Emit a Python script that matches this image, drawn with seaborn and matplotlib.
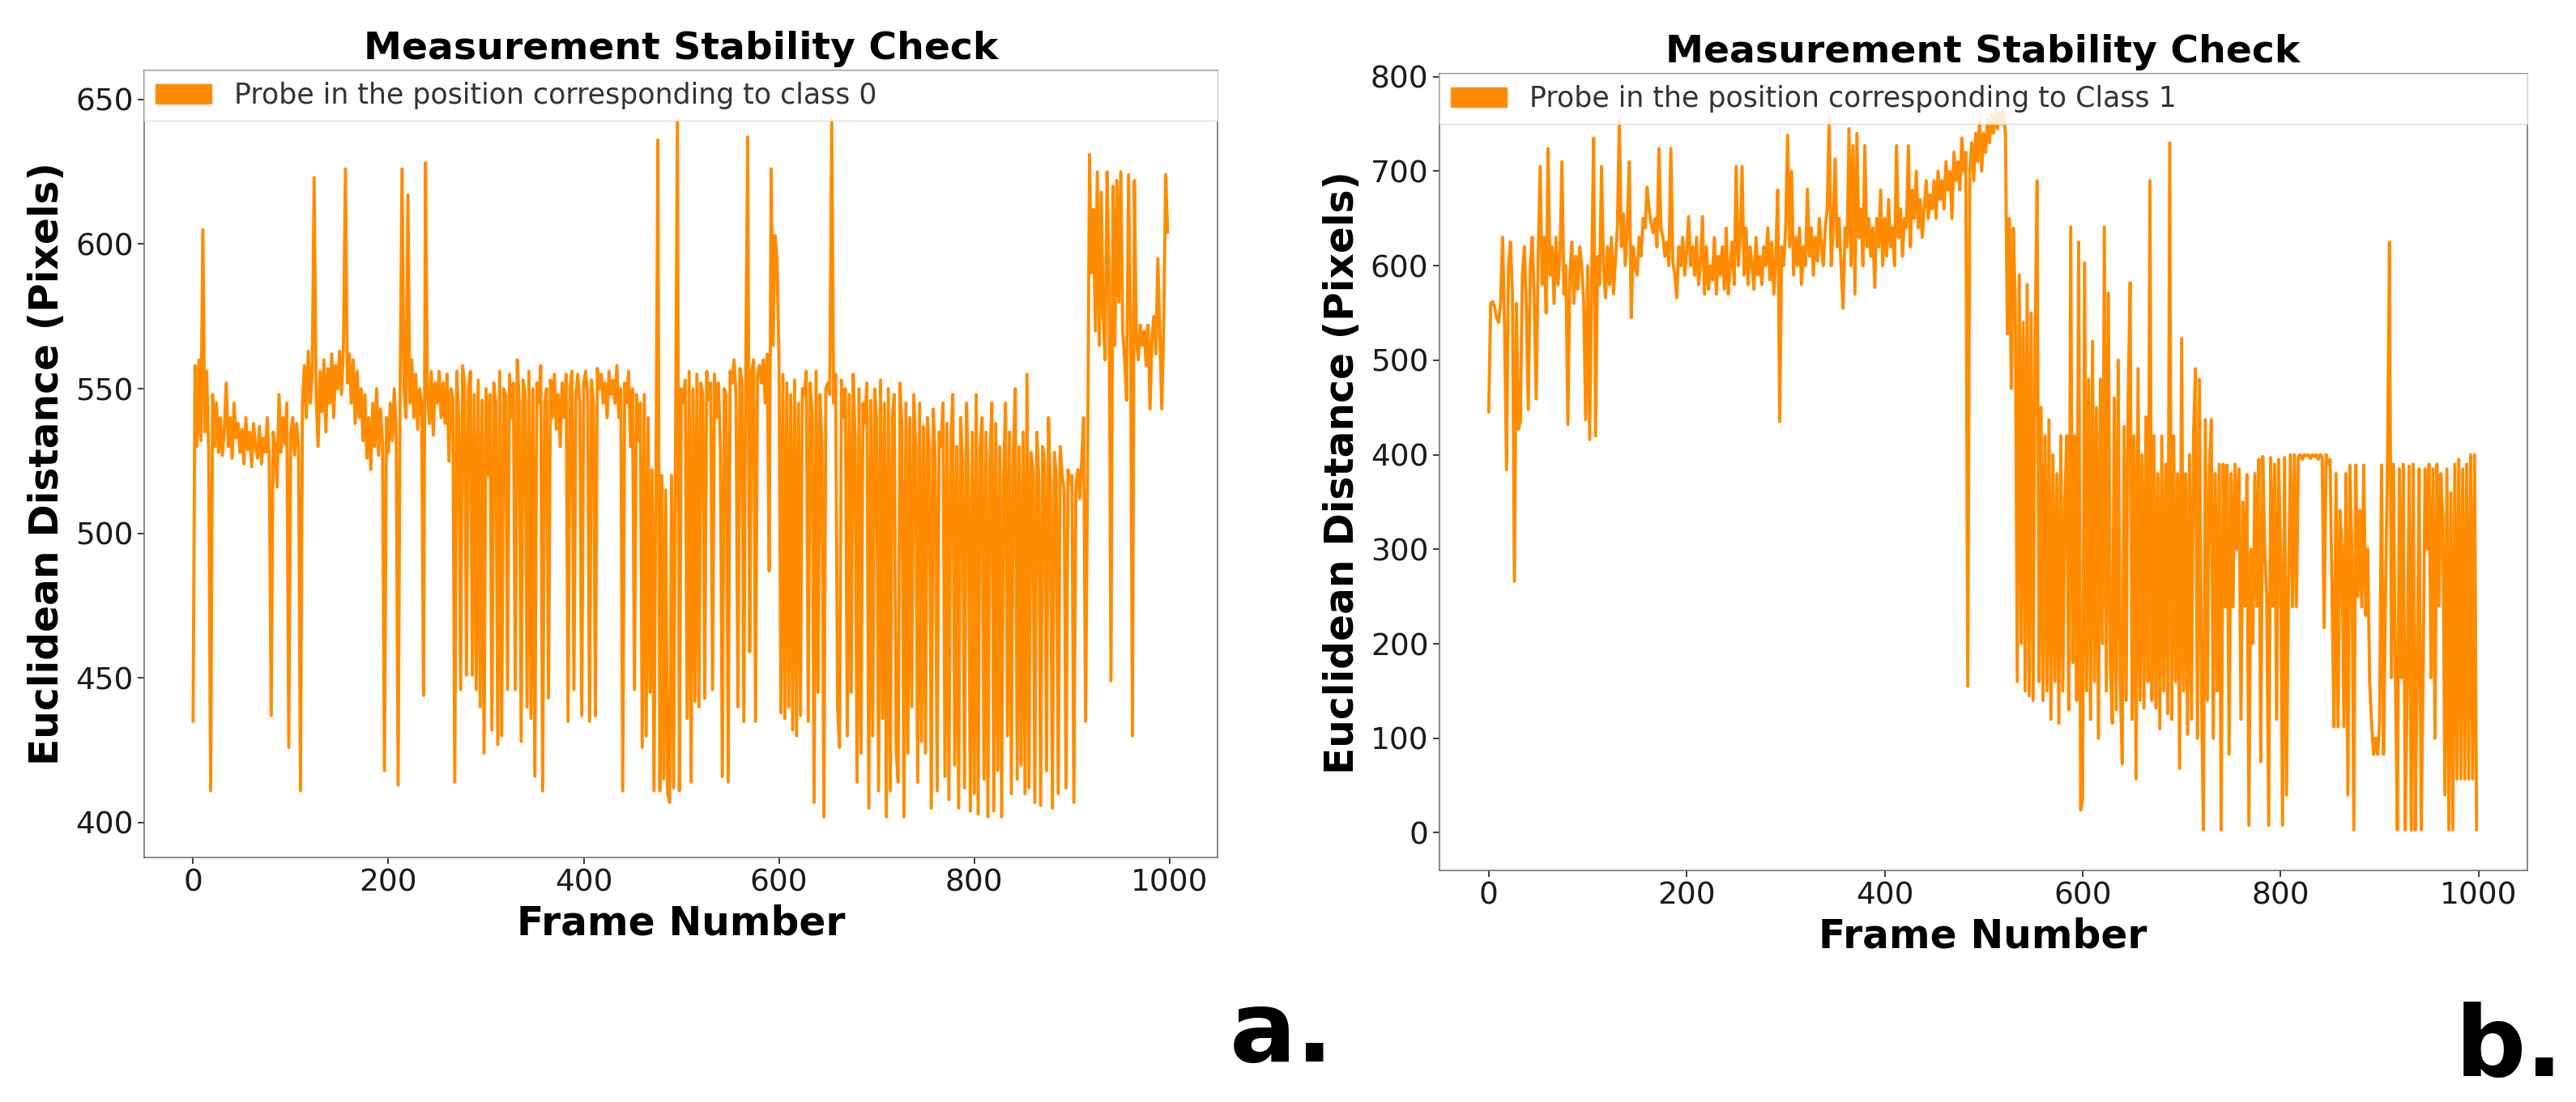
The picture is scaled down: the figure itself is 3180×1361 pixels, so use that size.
import numpy as np
import matplotlib
matplotlib.use("Agg")
from matplotlib import pyplot as plt
import matplotlib.patches as mpatches
import seaborn as sns

# frame numbers (every second frame)
frames = np.arange(0, 1000, 2)

# probe at class 0 position, Euclidean distance in pixels
class0_dist = [
    435, 558, 530, 560, 532, 605, 535, 556, 528, 411, 548, 530, 545, 528, 540, 527, 536, 552, 530, 540, 526, 545, 533, 538, 528,
    536, 524, 540, 529, 535, 523, 538, 530, 526, 537, 524, 533, 528, 540, 525, 437, 535, 530, 516, 548, 528, 540, 531, 545, 426,
    535, 540, 527, 538, 530, 411, 545, 558, 540, 563, 545, 555, 623, 548, 530, 556, 542, 560, 535, 557, 545, 562, 540, 558, 550,
    563, 548, 565, 626, 552, 562, 545, 560, 538, 556, 540, 550, 532, 548, 526, 540, 522, 545, 530, 550, 527, 543, 531, 418, 540,
    528, 545, 532, 550, 535, 413, 547, 626, 550, 540, 617, 545, 560, 540, 555, 536, 550, 545, 444, 628, 548, 538, 556, 534, 552,
    545, 556, 540, 552, 538, 555, 525, 550, 547, 414, 556, 540, 446, 558, 552, 451, 550, 556, 451, 548, 446, 553, 440, 546, 424,
    550, 520, 548, 432, 552, 545, 427, 556, 430, 550, 548, 446, 555, 540, 552, 446, 560, 545, 428, 553, 548, 440, 556, 436, 550,
    416, 552, 545, 558, 411, 545, 550, 443, 553, 540, 555, 536, 548, 530, 552, 540, 555, 435, 550, 556, 446, 548, 555, 545, 437,
    552, 556, 548, 435, 553, 545, 437, 557, 550, 555, 545, 552, 540, 556, 548, 553, 545, 558, 540, 550, 411, 552, 545, 556, 530,
    550, 446, 548, 532, 545, 426, 548, 430, 540, 445, 522, 411, 518, 636, 411, 520, 415, 515, 410, 407, 520, 412, 525, 643, 411,
    550, 545, 553, 436, 556, 414, 550, 442, 555, 440, 552, 548, 443, 556, 546, 552, 446, 555, 540, 552, 530, 416, 550, 548, 414,
    556, 552, 560, 548, 440, 557, 553, 435, 558, 637, 459, 556, 560, 435, 555, 558, 552, 560, 545, 562, 487, 626, 565, 603, 595,
    560, 438, 555, 436, 552, 440, 548, 432, 553, 430, 545, 437, 550, 548, 556, 435, 552, 540, 407, 556, 445, 548, 530, 402, 550,
    552, 548, 643, 545, 555, 440, 426, 553, 540, 550, 430, 548, 445, 555, 532, 414, 550, 424, 545, 538, 552, 405, 546, 430, 550,
    540, 411, 553, 436, 545, 402, 550, 411, 540, 548, 425, 414, 552, 535, 402, 545, 424, 540, 440, 548, 530, 414, 545, 428, 537,
    424, 540, 530, 405, 543, 525, 411, 535, 530, 545, 416, 538, 408, 532, 548, 420, 530, 405, 540, 525, 412, 545, 520, 404, 535,
    410, 548, 403, 530, 540, 415, 535, 402, 525, 545, 404, 538, 418, 530, 402, 520, 545, 430, 535, 410, 528, 550, 415, 530, 420,
    535, 410, 555, 412, 528, 522, 407, 535, 520, 406, 530, 525, 418, 540, 515, 405, 528, 520, 410, 530, 520, 515, 412, 522, 517,
    520, 407, 515, 522, 512, 525, 540, 435, 520, 631, 590, 612, 570, 625, 565, 618, 575, 560, 625, 590, 449, 620, 565, 622, 580,
    625, 570, 560, 546, 624, 575, 430, 622, 568, 560, 572, 565, 570, 558, 572, 543, 568, 575, 562, 595, 570, 543, 572, 624, 604,
]

# probe at class 1 position, Euclidean distance in pixels
class1_dist = [
    445, 560, 562, 556, 545, 540, 560, 630, 540, 384, 600, 625, 570, 266, 560, 427, 435, 590, 620, 555, 448, 600, 630, 565, 459,
    610, 705, 580, 630, 550, 724, 590, 620, 560, 630, 580, 610, 710, 570, 600, 432, 590, 625, 560, 610, 575, 620, 600, 560, 437,
    600, 416, 590, 735, 420, 610, 580, 705, 600, 566, 620, 580, 630, 570, 605, 640, 756, 620, 655, 600, 640, 710, 545, 620, 600,
    590, 630, 610, 650, 640, 683, 660, 645, 635, 650, 620, 724, 640, 630, 610, 625, 600, 724, 605, 590, 566, 620, 600, 630, 590,
    615, 652, 600, 620, 590, 630, 580, 600, 652, 570, 620, 575, 600, 585, 630, 570, 610, 590, 620, 575, 640, 570, 600, 625, 580,
    705, 600, 630, 705, 590, 640, 580, 620, 600, 575, 630, 590, 610, 580, 620, 600, 640, 585, 625, 570, 610, 680, 435, 620, 600,
    640, 738, 620, 700, 590, 630, 600, 640, 580, 620, 600, 681, 610, 640, 590, 630, 605, 650, 620, 600, 640, 660, 756, 600, 640,
    713, 620, 650, 600, 555, 640, 620, 745, 600, 727, 570, 740, 630, 660, 600, 727, 620, 650, 610, 640, 577, 650, 620, 680, 600,
    650, 610, 670, 620, 640, 600, 727, 630, 660, 610, 650, 640, 727, 620, 680, 650, 700, 640, 670, 630, 660, 690, 650, 675, 660,
    690, 650, 700, 670, 690, 660, 710, 680, 700, 650, 720, 690, 710, 680, 735, 700, 720, 155, 700, 730, 690, 740, 710, 756, 700,
    740, 720, 755, 730, 760, 740, 765, 745, 762, 750, 765, 740, 528, 650, 470, 640, 560, 160, 590, 200, 540, 150, 580, 145, 550,
    140, 520, 690, 160, 450, 140, 420, 150, 437, 120, 400, 160, 380, 116, 420, 150, 350, 420, 130, 641, 180, 420, 140, 625, 24,
    35, 603, 150, 480, 120, 520, 160, 450, 100, 480, 200, 641, 150, 571, 180, 116, 460, 130, 500, 160, 73, 430, 140, 460, 582,
    120, 420, 57, 491, 140, 400, 132, 440, 160, 690, 140, 420, 132, 380, 110, 420, 150, 390, 126, 730, 120, 420, 160, 380, 68,
    523, 150, 380, 104, 400, 120, 420, 491, 100, 480, 160, 3, 437, 140, 380, 437, 100, 380, 150, 390, 3, 390, 239, 389, 83,
    380, 239, 390, 300, 385, 120, 350, 240, 379, 8, 300, 200, 380, 240, 395, 75, 398, 300, 250, 8, 397, 240, 390, 120, 395,
    300, 8, 397, 40, 260, 400, 239, 400, 239, 398, 400, 395, 400, 399, 400, 396, 400, 398, 400, 395, 400, 398, 217, 400, 390,
    395, 250, 112, 380, 112, 341, 300, 112, 380, 40, 389, 300, 3, 389, 250, 341, 239, 389, 230, 300, 160, 115, 83, 100, 83,
    115, 389, 83, 250, 389, 625, 164, 390, 164, 3, 385, 164, 390, 3, 164, 388, 3, 390, 3, 164, 385, 3, 164, 385, 300,
    390, 164, 385, 100, 390, 240, 380, 330, 40, 385, 3, 360, 3, 390, 57, 395, 57, 385, 57, 390, 57, 400, 57, 400, 3,
]

titles = ["Measurement Stability Check", "Measurement Stability Check"]
legend_labels = ["Probe in the position corresponding to class 0",
                 "Probe in the position corresponding to Class 1"]
panel_tags = ["a.", "b."]

line_color = "#ff8c00"

sns.set_style("ticks")
plt.rcParams['font.family'] = ['DejaVu Sans']
plt.rcParams['text.color'] = 'black'
plt.rcParams['axes.labelcolor'] = 'black'

fig = plt.figure(figsize=(31.8, 13.61), dpi=100)
ax_a = fig.add_axes([0.056, 0.222, 0.4166, 0.714])
ax_b = fig.add_axes([0.5587, 0.210, 0.4223, 0.723])

series = [class0_dist, class1_dist]
ylims = [(388, 660), (-40, 803)]

for ax, vals, title, lab, yl in zip([ax_a, ax_b], series, titles, legend_labels, ylims):
    sns.lineplot(x=frames, y=vals, ax=ax, color=line_color, linewidth=2.8)
    ax.set_xlim(-50, 1049)
    ax.set_ylim(*yl)
    ax.set_xticks([0, 200, 400, 600, 800, 1000])
    ax.set_title(title, fontsize=34, fontweight='bold', pad=10, color='black')
    ax.set_xlabel("Frame Number", fontsize=35, fontweight='bold', labelpad=6, color='black')
    ax.set_ylabel("Euclidean Distance (Pixels)", fontsize=35, fontweight='bold', labelpad=8, color='black')
    ax.tick_params(labelsize=27, length=6, width=1.2, colors='0.1')
    for sp in ax.spines.values():
        sp.set_color('0.45')
        sp.set_linewidth(1.2)
    patch = mpatches.Patch(color=line_color, label=lab)
    leg = ax.legend(handles=[patch], loc='upper left', bbox_to_anchor=(0, 0, 1, 1),
                    mode='expand', borderaxespad=0, fontsize=25, fancybox=False,
                    framealpha=0.85)
    leg.get_frame().set_edgecolor('0.85')
    for t in leg.get_texts():
        t.set_color('0.2')

fig.text(0.4975, 0.061, panel_tags[0], fontsize=88, fontweight='bold', ha='center', va='center')
fig.text(0.974, 0.048, panel_tags[1], fontsize=88, fontweight='bold', ha='center', va='center')

fig.savefig("out.png", dpi=100)
